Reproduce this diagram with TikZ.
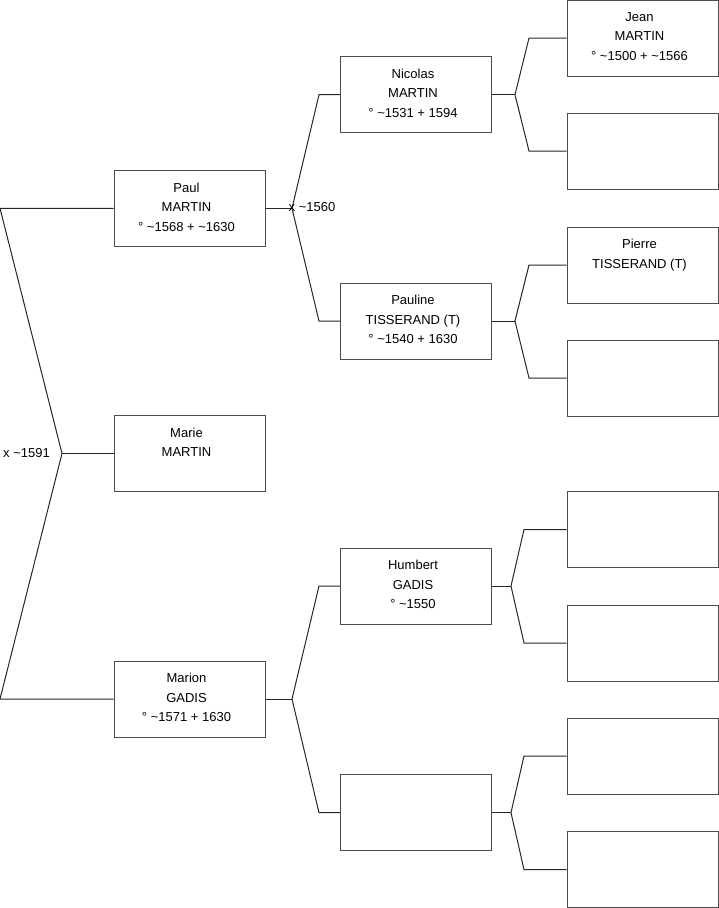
\documentclass[tikz,border=0pt]{standalone}
\usepackage{fontspec}
\setmainfont{Liberation Sans}
\begin{document}
\begin{tikzpicture}[x=1pt,y=-1pt,
  box/.style={draw=black!70, line width=1pt, minimum width=151pt, minimum height=76pt, inner sep=0pt},
  txt/.style={anchor=north, align=center, inner sep=0pt, font=\fontsize{13}{19.5}\selectfont},
  lbl/.style={inner sep=0pt, font=\fontsize{13}{15}\selectfont},
  conn/.style={draw=black!85, line width=1pt}]
\useasboundingbox (0,0) rectangle (719,908);
% level 1
\node[box] (paul) at (189.5,208.3) {};
\node[box] (marie) at (189.5,453.5) {};
\node[box] (marion) at (189.5,699) {};
% level 2
\node[box] (nicolas) at (416,94.7) {};
\node[box] (pauline) at (416,321) {};
\node[box] (humbert) at (416,586) {};
\node[box] (e2) at (416,812.7) {};
% level 3
\node[box] (jean) at (642.5,38) {};
\node[box] (e31) at (642.5,151) {};
\node[box] (pierre) at (642.5,265) {};
\node[box] (e32) at (642.5,378) {};
\node[box] (e33) at (642.5,529.5) {};
\node[box] (e34) at (642.5,643) {};
\node[box] (e35) at (642.5,756) {};
\node[box] (e36) at (642.5,869.5) {};
% texts
\tikzset{tpos/.style={xshift=-3pt,yshift=-12.6pt}}
\node[txt] (tpaul) at ([tpos]paul.north) {Paul\\MARTIN\\° \textasciitilde1568 + \textasciitilde1630};
\node[txt] (tmarie) at ([tpos]marie.north) {Marie\\MARTIN};
\node[txt] (tmarion) at ([tpos]marion.north) {Marion\\GADIS\\° \textasciitilde1571 + 1630};
\node[txt] (tnicolas) at ([tpos]nicolas.north) {Nicolas\\MARTIN\\° \textasciitilde1531 + 1594};
\node[txt] (tpauline) at ([tpos]pauline.north) {Pauline\\TISSERAND (T)\\° \textasciitilde1540 + 1630};
\node[txt] (thumbert) at ([tpos]humbert.north) {Humbert\\GADIS\\° \textasciitilde1550};
\node[txt] (tjean) at ([tpos]jean.north) {Jean\\MARTIN\\° \textasciitilde1500 + \textasciitilde1566};
\node[txt] (tpierre) at ([tpos]pierre.north) {Pierre\\TISSERAND (T)};
% level 0 connectors
\coordinate (l1) at (0,208.3);
\coordinate (la) at (62,453.5);
\coordinate (l2) at (0,699);
\draw[conn] (paul.west) -- (l1) -- (la) -- (l2) -- (marion.west);
\draw[conn] (la) -- (marie.west);
\node[lbl, anchor=east] (x1591) at (50,453.5) {x \textasciitilde1591};
% Paul
\coordinate (ap) at (292,208.3);
\draw[conn] (paul.east) -- (ap);
\draw[conn] (nicolas.west) -- (319,94.7) -- (ap) -- (319,321) -- (pauline.west);
\node[lbl, anchor=west] (x1560) at (288.5,207.5) {x \textasciitilde1560};
% Marion
\coordinate (am) at (292,699);
\draw[conn] (marion.east) -- (am);
\draw[conn] (humbert.west) -- (319,586) -- (am) -- (319,812.7) -- (e2.west);
% Nicolas
\coordinate (an) at (515,94.7);
\draw[conn] (nicolas.east) -- (an);
\draw[conn] (jean.west) -- (529,38) -- (an) -- (529,151) -- (e31.west);
% Pauline
\coordinate (apl) at (515,321);
\draw[conn] (pauline.east) -- (apl);
\draw[conn] (pierre.west) -- (529,265) -- (apl) -- (529,378) -- (e32.west);
% Humbert
\coordinate (ah) at (511,586);
\draw[conn] (humbert.east) -- (ah);
\draw[conn] (e33.west) -- (524,529.5) -- (ah) -- (524,643) -- (e34.west);
% empty
\coordinate (ae) at (511,812.7);
\draw[conn] (e2.east) -- (ae);
\draw[conn] (e35.west) -- (524,756) -- (ae) -- (524,869.5) -- (e36.west);
\end{tikzpicture}
\end{document}
